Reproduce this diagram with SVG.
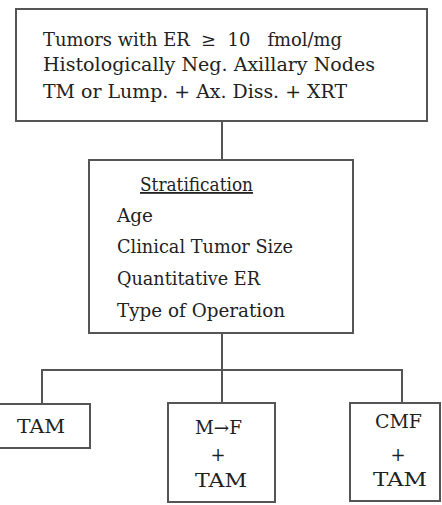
<svg xmlns="http://www.w3.org/2000/svg" width="442" height="505" viewBox="0 0 442 505">
<style>
.box{fill:#fff;stroke:#555;stroke-width:2}
.ln{stroke:#555;stroke-width:2;fill:none}
.t{font-family:'DejaVu Serif','Liberation Serif',serif;font-size:18px;fill:#222}
.c{text-anchor:middle}
</style>
<rect width="442" height="505" fill="#fff"/>
<g id="connectors">
<line class="ln" x1="222" y1="121" x2="222" y2="160"/>
<line class="ln" x1="222" y1="333" x2="222" y2="403"/>
<polyline class="ln" points="42,404 42,370 402,370 402,403"/>
</g>
<g id="eligibility" class="t">
<rect class="box" x="16" y="9" width="411" height="112"/>
<text x="43" y="46" textLength="299" lengthAdjust="spacingAndGlyphs" xml:space="preserve">Tumors with ER  ≥  10   fmol/mg</text>
<text x="43" y="71" textLength="332" lengthAdjust="spacingAndGlyphs">Histologically Neg. Axillary Nodes</text>
<text x="43" y="98" textLength="304" lengthAdjust="spacingAndGlyphs">TM or Lump. + Ax. Diss. + XRT</text>
</g>
<g id="stratification" class="t">
<rect class="box" x="89" y="160" width="264" height="173"/>
<text x="140" y="191" text-decoration="underline" textLength="113" lengthAdjust="spacingAndGlyphs">Stratification</text>
<text x="117" y="222" textLength="36" lengthAdjust="spacingAndGlyphs">Age</text>
<text x="117" y="253" textLength="176" lengthAdjust="spacingAndGlyphs">Clinical Tumor Size</text>
<text x="117" y="285" textLength="143" lengthAdjust="spacingAndGlyphs">Quantitative ER</text>
<text x="117" y="317" textLength="168" lengthAdjust="spacingAndGlyphs">Type of Operation</text>
</g>
<g id="tam" class="t">
<rect class="box" x="-2" y="404" width="92" height="44"/>
<text x="17" y="433" textLength="48" lengthAdjust="spacingAndGlyphs">TAM</text>
</g>
<g id="mf-tam" class="t">
<rect class="box" x="168" y="403" width="107" height="99"/>
<text x="195" y="434" textLength="47" lengthAdjust="spacingAndGlyphs">M→F</text>
<text class="c" x="218" y="461">+</text>
<text x="195" y="487" textLength="52" lengthAdjust="spacingAndGlyphs">TAM</text>
</g>
<g id="cmf-tam" class="t">
<rect class="box" x="350" y="403" width="90" height="98"/>
<text x="375" y="428" textLength="47" lengthAdjust="spacingAndGlyphs">CMF</text>
<text class="c" x="398" y="461">+</text>
<text x="373" y="486" textLength="54" lengthAdjust="spacingAndGlyphs">TAM</text>
</g>
</svg>
